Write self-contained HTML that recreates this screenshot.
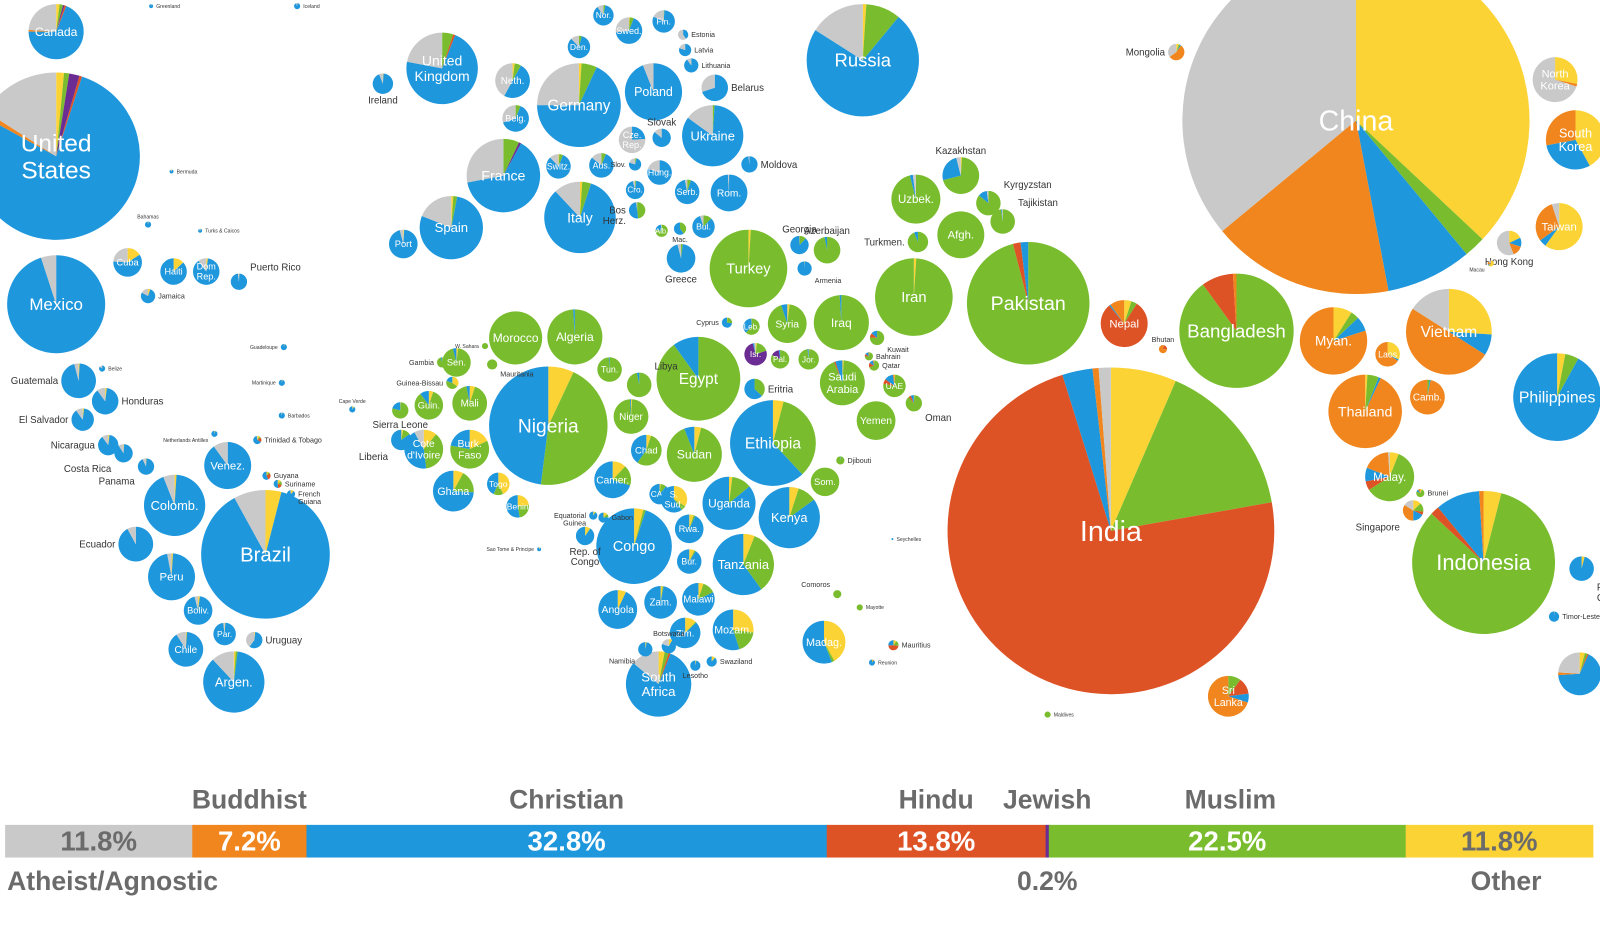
<!DOCTYPE html>
<html><head><meta charset="utf-8"><style>
html,body{margin:0;padding:0;background:#fff;}
svg{display:block;}
text{font-family:"Liberation Sans",sans-serif;}
</style></head><body>
<svg id="chart" width="1600" height="929" viewBox="0 0 1567 910" preserveAspectRatio="none" xmlns="http://www.w3.org/2000/svg">
<g id="bubbles"></g>
<g id="legend"></g>
</svg>
<script>
// Religion categories (legend order)
const religions = ["Atheist/Agnostic","Buddhist","Christian","Hindu","Jewish","Muslim","Other"];
const colors = ["#c9c9c9","#f0861d","#1f97dd","#dd5325","#6b2c93","#79bd2e","#fbd335"];
const worldShares = [11.8,7.2,32.8,13.8,0.2,22.5,11.8];
const shareLabels = ["11.8%","7.2%","32.8%","13.8%","","22.5%","11.8%"];

// Country data: names and religion shares [ath,bud,chr,hin,jew,mus,oth]
const names = [];
const shares = [];
const layout = []; // [x,y,r,labelMode]
function C(n,s,x,y,r,m){names.push(n);shares.push(s);layout.push([x,y,r,m]);}

C("China",[.36,.17,.08,0,0,.02,.37],1328,118,170,"in");
C("India",[.012,.006,.03,.73,0,.157,.065],1088,520,160,"in");
C("United\nStates",[.16,.01,.78,.005,.02,.01,.015],55,153,82,"in");
C("Brazil",[.08,0,.88,0,0,0,.04],260,543,63,"in");
C("Nigeria",[0,0,.48,0,0,.45,.07],537,417,58,"in");
C("Indonesia",[0,.01,.1,.02,0,.83,.04],1453,551,70,"in");
C("Pakistan",[0,0,.02,.02,0,.96,0],1007,297,60,"in");
C("Bangladesh",[0,.01,0,.09,0,.9,0],1211,324,56,"in");
C("Russia",[.16,0,.73,0,0,.1,.01],845,59,55,"in");
C("Mexico",[.05,0,.95,0,0,0,0],55,298,48,"in");
C("Ethiopia",[0,0,.62,0,0,.34,.04],757,434,42,"in");
C("Egypt",[0,0,.1,0,0,.9,0],684,371,41,"in");
C("Germany",[.25,0,.68,0,0,.06,.01],567,103,41,"in");
C("Iran",[0,0,0,0,0,.99,.01],895,291,38,"in");
C("Turkey",[0,0,0,0,0,.99,.01],733,263,38,"in");
C("Philippines",[0,0,.92,0,0,.05,.03],1525,389,43,"in");
C("Vietnam",[.16,.5,.08,0,0,0,.26],1419,325,42,"in");
C("Thailand",[0,.93,.01,0,0,.05,.01],1337,403,36,"in");
C("Congo",[0,0,.95,0,0,.01,.04],621,535,37,"in");
C("Myan.",[0,.8,.07,0,0,.04,.09],1306,334,33,"in");
C("South\nKorea",[0,.28,.3,0,0,0,.42],1543,137,29,"in");
C("North\nKorea",[.7,.02,0,0,0,0,.28],1523,78,22,"in");
C("Taiwan",[.05,.3,.05,0,0,0,.6],1527,222,23,"in");
C("United\nKingdom",[.22,0,.72,.01,0,.05,0],433,67,35,"in");
C("France",[.28,0,.64,0,.01,.07,0],493,172,36,"in");
C("Italy",[.12,0,.83,0,0,.04,.01],568,213,35,"in");
C("Ukraine",[.15,0,.84,0,0,.01,0],698,133,30,"in");
C("Poland",[.06,0,.94,0,0,0,0],640,90,28,"in");
C("Spain",[.19,0,.78,0,0,.02,.01],442,223,31,"in");
C("Argen.",[.12,0,.86,0,0,.01,.01],229,668,30,"in");
C("Colomb.",[.06,0,.93,0,0,0,.01],171,495,30,"in");
C("Kenya",[0,0,.85,0,0,.1,.05],773,507,30,"in");
C("Tanzania",[0,0,.6,0,0,.34,.06],728,553,30,"in");
C("South\nAfrica",[.14,0,.8,.01,0,.02,.03],645,670,32,"in");
C("Sudan",[0,0,.06,0,0,.9,.04],680,445,27,"in");
C("Algeria",[0,0,.01,0,0,.99,0],563,330,27,"in");
C("Morocco",[0,0,0,0,0,1,0],505,331,26,"in");
C("Uganda",[0,0,.86,0,0,.12,.02],714,493,26,"in");
C("Uzbek.",[.02,0,.02,0,0,.96,0],897,195,24,"in");
C("Afgh.",[0,0,0,0,0,1,0],941,230,23,"in");
C("Iraq",[0,0,.01,0,0,.99,0],824,316,27,"in");
C("Saudi\nArabia",[0,0,.05,.01,0,.93,.01],825,375,22,"in");
C("Canada",[.24,.01,.69,.01,.01,.02,.02],55,31,27,"in");
C("Venez.",[.1,0,.9,0,0,0,0],223,456,23,"in");
C("Peru",[.03,0,.96,0,0,0,.01],168,565,23,"in");
C("Nepal",[0,.1,.01,.8,0,.04,.05],1101,317,23,"in");
C("Malay.",[.01,.18,.09,.06,0,.6,.06],1361,467,24,"in");
C("Sri\nLanka",[0,.7,.07,.13,0,.1,0],1203,682,20,"in");
C("Madag.",[0,0,.56,0,0,.02,.42],807,629,21,"in");
C("Mozam.",[0,0,.55,0,0,.18,.27],718,617,20,"in");
C("Angola",[0,0,.93,0,0,0,.07],605,597,19,"in");
C("Ghana",[0,0,.74,0,0,.18,.08],444,481,20,"in");
C("Camer.",[0,0,.7,0,0,.18,.12],600,470,18,"in");
C("Yemen",[0,0,0,0,0,1,0],858,412,19,"in");
C("Neth.",[.42,0,.5,0,0,.06,.02],502,79,17,"in");
C("Kazakhstan",[.04,0,.25,0,0,.7,.01],941,172,18,"t");
C("Cuba",[.24,0,.6,0,0,0,.16],125,257,14,"in");
C("Haiti",[0,0,.87,0,0,0,.13],170,266,13,"in");
C("Dom\nRep.",[.1,0,.88,0,0,0,.02],202,266,13,"in");
C("Puerto Rico",[.02,0,.97,0,0,0,.01],234,276,8,"tr");
C("Jamaica",[.17,0,.78,0,0,0,.05],145,290,7,"r");
C("Guatemala",[.04,0,.95,0,0,0,.01],77,373,17,"l");
C("Honduras",[.1,0,.88,0,0,0,.02],103,393,13,"r");
C("El Salvador",[.1,0,.88,0,0,0,.02],81,411,11,"l");
C("Nicaragua",[.1,0,.88,0,0,0,.02],106,436,10,"l");
C("Costa Rica",[.09,0,.9,0,0,0,.01],121,444,9,"bl");
C("Panama",[.07,0,.92,0,0,0,.01],143,457,8,"bl");
C("Ecuador",[.08,0,.92,0,0,0,0],133,533,17,"l");
C("Boliv.",[.04,0,.94,0,0,0,.02],194,598,14,"in");
C("Par.",[.02,0,.97,0,0,0,.01],220,621,11,"in");
C("Chile",[.09,0,.9,0,0,0,.01],182,636,17,"in");
C("Uruguay",[.4,0,.58,0,0,0,.02],249,627,8,"r");
C("Ireland",[.06,0,.93,0,0,0,.01],375,82,10,"b");
C("Belg.",[.3,0,.64,0,0,.06,0],505,116,13,"in");
C("Switz.",[.12,0,.82,0,0,.05,.01],547,163,12,"in");
C("Den.",[.12,0,.84,0,0,.04,0],567,46,11,"in");
C("Nor.",[.1,0,.87,0,0,.03,0],591,15,10,"in");
C("Swed.",[.27,0,.67,0,0,.05,.01],616,30,13,"in");
C("Fin.",[.18,0,.81,0,0,.01,0],650,21,11,"in");
C("Estonia",[.6,0,.4,0,0,0,0],669,34,5,"r");
C("Latvia",[.2,0,.8,0,0,0,0],671,49,6,"r");
C("Lithuania",[.1,0,.9,0,0,0,0],677,64,7,"r");
C("Belarus",[.3,0,.7,0,0,0,0],700,86,13,"r");
C("Cze.\nRep.",[.76,0,.24,0,0,0,0],619,137,13,"in");
C("Slovak",[.14,0,.86,0,0,0,0],648,135,9,"t");
C("Aus.",[.14,0,.8,0,0,.06,0],589,162,12,"in");
C("Hung.",[.2,0,.8,0,0,0,0],646,169,12,"in");
C("Slov.",[.2,0,.76,0,0,.04,0],622,161,6,"l");
C("Moldova",[.02,0,.98,0,0,0,0],734,161,8,"r");
C("Serb.",[.03,0,.92,0,0,.05,0],673,188,12,"in");
C("Rom.",[.01,0,.99,0,0,0,0],714,189,18,"in");
C("Port",[.04,0,.95,0,0,0,.01],395,239,14,"in");
C("Cro.",[.04,0,.94,0,0,.02,0],622,186,9,"in");
C("Bos\nHerz.",[.02,0,.5,0,0,.48,0],624,206,8,"l");
C("Bul.",[.05,0,.83,0,0,.12,0],689,222,11,"in");
C("Greece",[.04,0,.94,0,0,.02,0],667,253,14,"b");
C("Alb.",[.02,0,.2,0,0,.78,0],648,226,6,"in");
C("Mac.",[0,0,.6,0,0,.4,0],666,224,6,"b");
C("Georgia",[0,0,.88,0,0,.11,.01],783,240,9,"t");
C("Azerbaijan",[0,0,.03,0,0,.97,0],810,245,13,"t");
C("Armenia",[0,0,.99,0,0,0,.01],788,263,7,"br");
C("Turkmen.",[0,0,.06,0,0,.94,0],899,237,10,"l");
C("Kyrgyzstan",[.02,0,.12,0,0,.86,0],968,199,12,"tr");
C("Tajikistan",[.01,0,.01,0,0,.98,0],982,217,12,"tr");
C("Syria",[0,0,.05,0,0,.93,.02],771,317,19,"in");
C("Leb.",[0,0,.38,0,0,.61,.01],736,320,8,"in");
C("Isr.",[.02,0,.02,0,.76,.18,.02],740,347,11,"in");
C("Pal.",[0,0,.02,0,.15,.83,0],764,352,9,"in");
C("Jor.",[0,0,.02,0,0,.97,.01],792,352,10,"in");
C("Kuwait",[0,0,.14,.1,0,.76,0],859,331,7,"br");
C("Bahrain",[0,.02,.14,.1,0,.72,.02],851,349,4,"r");
C("Qatar",[0,.03,.14,.14,0,.68,.01],856,358,5,"r");
C("UAE",[0,.02,.13,.07,0,.77,.01],876,378,11,"in");
C("Oman",[0,0,.06,.05,0,.88,.01],895,395,8,"br");
C("Cyprus",[0,0,.73,0,0,.25,.02],712,316,5,"l");
C("Sen.",[0,0,.04,0,0,.94,.02],447,355,14,"in");
C("Mali",[0,0,.03,0,0,.92,.05],460,395,17,"in");
C("Guin.",[0,0,.1,0,0,.85,.05],420,397,14,"in");
C("Burk.\nFaso",[0,0,.22,0,0,.6,.18],460,440,19,"in");
C("Cote\nd'Ivoire",[.08,0,.44,0,0,.37,.11],415,440,19,"in");
C("Sierra Leone",[0,0,.21,0,0,.78,.01],392,402,8,"b");
C("Liberia",[0,0,.85,0,0,.12,.03],393,431,10,"bl");
C("Gambia",[0,0,.04,0,0,.95,.01],433,355,5,"l");
C("Guinea-Bissau",[0,0,.2,0,0,.45,.35],443,375,6,"l");
C("Mauritania",[0,0,0,0,0,1,0],482,357,5,"br");
C("W. Sahara",[0,0,0,0,0,1,0],475,339,3,"l");
C("Niger",[0,0,.01,0,0,.98,.01],618,408,17,"in");
C("Chad",[0,0,.4,0,0,.55,.05],633,441,15,"in");
C("Tun.",[0,0,.01,0,0,.99,0],597,362,12,"in");
C("Libya",[0,0,.03,0,0,.97,0],626,377,12,"tr");
C("Togo",[0,0,.43,0,0,.14,.43],488,474,11,"in");
C("Benin",[0,0,.53,0,0,.24,.23],507,496,11,"in");
C("Eritria",[0,0,.63,0,0,.37,0],739,381,10,"r");
C("Som.",[0,0,0,0,0,1,0],808,472,14,"in");
C("Djibouti",[0,0,.02,0,0,.97,.01],823,451,4,"r");
C("Rwa.",[0,0,.93,0,0,.02,.05],675,518,14,"in");
C("Bur.",[0,0,.91,0,0,.02,.07],675,550,12,"in");
C("CAR",[0,0,.89,0,0,.09,.02],646,484,10,"in");
C("S.\nSud.",[0,0,.6,0,0,.06,.34],660,489,13,"in");
C("Zam.",[0,0,.97,0,0,.01,.02],647,590,16,"in");
C("Malawi",[0,0,.82,0,0,.13,.05],684,587,16,"in");
C("Zim.",[0,0,.87,0,0,.01,.12],671,620,15,"in");
C("Gabon",[0,0,.76,0,0,.11,.13],591,507,5,"r");
C("Equatorial\nGuinea",[0,0,.89,0,0,.04,.07],581,505,4,"l");
C("Rep. of\nCongo",[0,0,.9,0,0,.01,.09],573,525,9,"b");
C("Botswana",[.2,0,.72,0,0,0,.08],655,633,7,"t");
C("Namibia",[0,0,.97,0,0,0,.03],632,636,7,"bl");
C("Lesotho",[0,0,.97,0,0,0,.03],681,652,5,"b");
C("Swaziland",[0,0,.88,0,0,.01,.11],697,648,5,"r");
C("Comoros",[0,0,0,0,0,1,0],820,582,4,"tl");
C("Mayotte",[0,0,0,0,0,1,0],842,595,3,"r");
C("Mauritius",[0,0,.25,.48,0,.17,.1],875,632,5,"r");
C("Reunion",[0,0,.88,.04,0,.04,.04],854,649,3,"r");
C("Seychelles",[0,0,.95,0,0,0,.05],874,528,1,"r");
C("Cape Verde",[0,0,.9,0,0,0,.1],345,401,3,"t");
C("Sao Tome & Principe",[0,0,.9,0,0,0,.1],528,538,2,"l");
C("Mongolia",[.35,.55,.02,0,0,.03,.05],1152,51,8,"l");
C("Hong Kong",[.56,.14,.12,0,0,0,.18],1478,238,12,"b");
C("Macau",[.15,.17,.07,0,0,0,.61],1460,258,3,"bl");
C("Laos",[0,.66,.02,0,0,0,.32],1359,347,12,"in");
C("Camb.",[0,.97,.01,0,0,.02,0],1398,389,17,"in");
C("Singapore",[.16,.34,.18,.05,0,.14,.13],1384,500,10,"bl");
C("Brunei",[0,.09,.09,0,0,.75,.07],1391,483,4,"r");
C("Bhutan",[0,.75,0,.23,0,0,.02],1139,342,4,"t");
C("Maldives",[0,0,0,0,0,1,0],1026,700,3,"r");
C("Papa New\nGuinea",[0,0,.96,0,0,0,.04],1549,557,12,"br");
C("Timor-Leste",[0,0,.99,0,0,0,.01],1522,604,5,"r");
C("",[.24,.02,.67,.01,0,.02,.04],1547,660,21,"in");
C("Iceland",[.05,0,.94,0,0,0,.01],291,6,3,"r");
C("Greenland",[.02,0,.96,0,0,0,.02],148,6,2,"r");
C("Bahamas",[.02,0,.96,0,0,0,.02],145,220,3,"t");
C("Bermuda",[.1,0,.85,0,0,0,.05],168,168,2,"r");
C("Turks & Caicos",[.1,0,.85,0,0,0,.05],196,226,2,"r");
C("Guyana",[0,0,.57,.28,0,.07,.08],261,466,4,"r");
C("Suriname",[0,0,.51,.2,0,.15,.14],272,474,4,"r");
C("French\nGuiana",[.03,0,.84,.02,0,.01,.1],285,484,4,"r");
C("Trinidad & Tobago",[.02,0,.65,.18,0,.06,.09],252,431,4,"r");
C("Barbados",[.02,0,.95,0,0,0,.03],276,407,3,"r");
C("Martinique",[0,0,.96,0,0,0,.04],276,375,3,"l");
C("Guadeloupe",[0,0,.96,0,0,0,.04],278,340,3,"l");
C("Netherlands Antilles",[0,0,.95,0,0,0,.05],210,425,3,"bl");
C("Belize",[.15,0,.85,0,0,0,0],100,361,3,"r");

// ---- drawing ----
const NS="http://www.w3.org/2000/svg";
const gB=document.getElementById("bubbles");
function slug(s){return s.toLowerCase().replace(/[^a-z0-9]+/g,"-").replace(/^-|-$/g,"")||"australia";}
function pt(cx,cy,r,f){const a=f*2*Math.PI;return [cx+r*Math.sin(a),cy-r*Math.cos(a)];}
names.forEach((name,i)=>{
  const [x,y,r,mode]=layout[i];
  const s=shares[i];
  const g=document.createElementNS(NS,"g");
  
  
  const tot=s.reduce((a,b)=>a+b,0);
  let acc=0;
  for(let k=6;k>=0;k--){
    const v=s[k]/tot; if(v<=0) continue;
    let el;
    if(v>=0.9999){
      el=document.createElementNS(NS,"circle");
      el.setAttribute("cx",x);el.setAttribute("cy",y);el.setAttribute("r",r);
    }else{
      const p0=pt(x,y,r,acc),p1=pt(x,y,r,acc+v);
      el=document.createElementNS(NS,"path");
      el.setAttribute("d",`M${x},${y}L${p0[0]},${p0[1]}A${r},${r} 0 ${v>0.5?1:0} 1 ${p1[0]},${p1[1]}Z`);
    }
    el.setAttribute("fill",colors[k]);
    
    
    g.appendChild(el);
    acc+=v;
  }
  if(name){
    const lines=name.split("\n");
    const t=document.createElementNS(NS,"text");
    if(mode==="in"){
      const fs=Math.min(28,6+r*0.22);
      t.setAttribute("fill","#fff");t.setAttribute("font-size",fs.toFixed(1));
      t.setAttribute("text-anchor","middle");
      const y0=y+fs*0.35-(lines.length-1)*fs*0.55;
      lines.forEach((ln,j)=>{const ts=document.createElementNS(NS,"tspan");ts.setAttribute("x",x);ts.setAttribute("y",y0+j*fs*1.1);ts.textContent=ln;t.appendChild(ts);});
    }else{
      const fs=r>=8?9.5:(r>=4?7:5);
      t.setAttribute("fill","#333");t.setAttribute("font-size",fs);
      let tx=x,ty=y+fs*0.35,anc="middle";
      if(mode.includes("r")){tx=x+r+3;anc="start";}
      if(mode.includes("l")){tx=x-r-3;anc="end";}
      if(mode[0]==="t"){ty=y-r-3;}
      if(mode[0]==="b"){ty=y+r+fs;}
      t.setAttribute("text-anchor",anc);
      lines.forEach((ln,j)=>{const ts=document.createElementNS(NS,"tspan");ts.setAttribute("x",tx);ts.setAttribute("y",ty+j*fs*1.05-(mode[0]==="t"?(lines.length-1)*fs:0));ts.textContent=ln;t.appendChild(ts);});
    }
    
    
    g.appendChild(t);
  }
  gB.appendChild(g);
});

// ---- legend bar ----
const gL=document.getElementById("legend");
const barX0=5, barX1=1560, barY=808, barH=32;
const totalW=worldShares.reduce((a,b)=>a+b,0);
let cx=barX0;
const centers=[];
worldShares.forEach((v,k)=>{
  let w=(v/totalW)*(barX1-barX0);
  if(k===4) w=Math.max(w,3);
  const rc=document.createElementNS(NS,"rect");
  rc.setAttribute("x",cx);rc.setAttribute("y",barY);rc.setAttribute("width",w+0.5);rc.setAttribute("height",barH);
  rc.setAttribute("fill",colors[k]);
  
  
  gL.appendChild(rc);
  centers.push(cx+w/2);
  if(shareLabels[k]){
    const t=document.createElementNS(NS,"text");
    t.setAttribute("x",cx+w/2);t.setAttribute("y",barY+25);
    t.setAttribute("text-anchor","middle");t.setAttribute("font-size","27");t.setAttribute("font-weight","bold");
    t.setAttribute("fill",(k===0||k===6)?"#6b6b6b":"#fff");
    t.textContent=shareLabels[k];
    
    
    gL.appendChild(t);
  }
  cx+=w;
});
function lbl(txt,x,y,anchor,name){
  const t=document.createElementNS(NS,"text");
  t.setAttribute("x",x);t.setAttribute("y",y);t.setAttribute("text-anchor",anchor);
  t.setAttribute("font-size","26");t.setAttribute("font-weight","bold");t.setAttribute("fill","#6b6b6b");
  t.textContent=txt;
  
  
  gL.appendChild(t);
}
lbl("Buddhist",centers[1],792,"middle","legend-label-buddhist");
lbl("Christian",centers[2],792,"middle","legend-label-christian");
lbl("Hindu",centers[3],792,"middle","legend-label-hindu");
lbl("Jewish",centers[4],792,"middle","legend-label-jewish");
lbl("Muslim",1205,792,"middle","legend-label-muslim");
lbl("Atheist/Agnostic",7,872,"start","legend-label-atheist");
lbl("0.2%",centers[4],872,"middle","legend-value-jewish");
lbl("Other",1475,872,"middle","legend-label-other");
</script>
</body></html>
